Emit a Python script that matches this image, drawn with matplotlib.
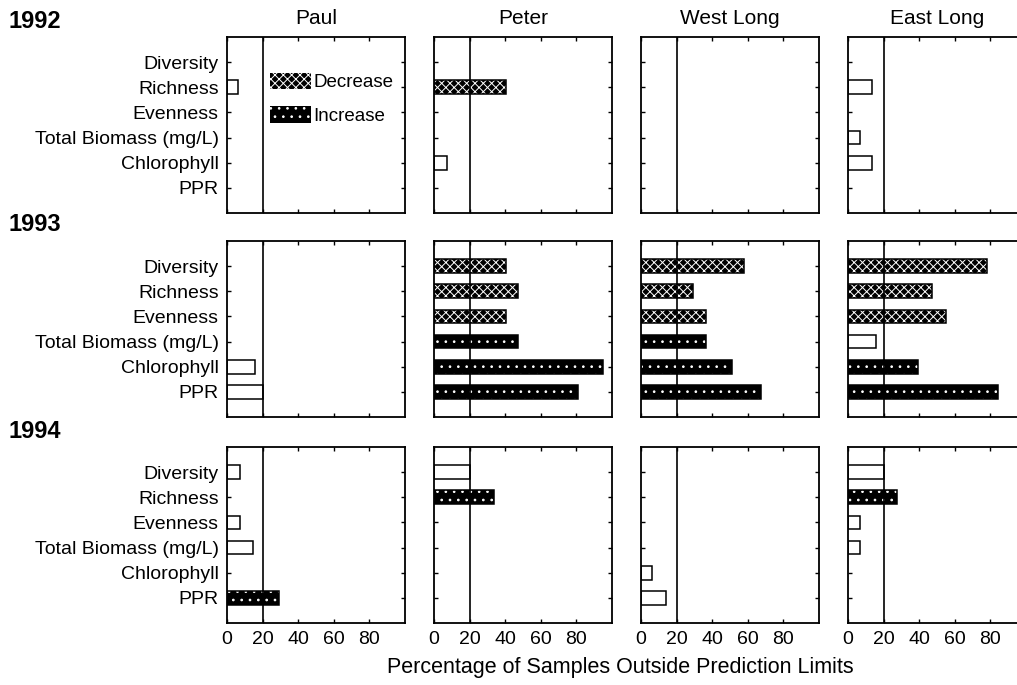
import matplotlib
matplotlib.use("Agg")
import matplotlib.pyplot as plt
from matplotlib.patches import Patch

plt.rcParams['font.family'] = ['Liberation Sans', 'DejaVu Sans']
plt.rcParams['hatch.linewidth'] = 0.7

categories = ["Diversity", "Richness", "Evenness", "Total Biomass (mg/L)", "Chlorophyll", "PPR"]
lakes = ["Paul", "Peter", "West Long", "East Long"]
years = ["1992", "1993", "1994"]

# percent of samples outside limits, one list per lake (order of categories)
pct_1992 = [[0, 6.2, 0, 0, 0, 0],
            [0, 40.7, 0, 0, 7.3, 0],
            [0, 0, 0, 0, 0, 0],
            [0, 13.4, 0, 7, 13.4, 0]]
pct_1993 = [[0, 0, 0, 0, 15.7, 20],
            [40.6, 47.4, 40.6, 47.4, 94.7, 80.8],
            [57.9, 29.2, 36.4, 36.4, 51.1, 67.2],
            [78.3, 47.2, 55.1, 15.8, 39.2, 84.3]]
pct_1994 = [[7.4, 0, 7.4, 14.8, 0, 29],
            [20, 33.7, 0, 0, 0, 0],
            [0, 0, 0, 0, 6.4, 14.2],
            [20, 27.4, 6.9, 6.9, 0, 0]]
# n = no direction (open bar), d = decrease, i = increase
kind_1992 = ["nnnnnn", "ndnnnn", "nnnnnn", "nnnnnn"]
kind_1993 = ["nnnnnn", "dddiii", "dddiii", "dddnii"]
kind_1994 = ["nnnnni", "ninnnn", "nnnnnn", "ninnnn"]

pct = [pct_1992, pct_1993, pct_1994]
kinds = [kind_1992, kind_1993, kind_1994]
hatches = {"d": "xxxx", "i": ".."}

W, H = 1017, 685
fig = plt.figure(figsize=(W / 100, H / 100), dpi=100)
col_left = [227, 434, 641, 848]
row_top = [37, 241, 447]
aw, ah = 178, 176

ypos = list(range(6, 0, -1))
for r, yr in enumerate(years):
    for c, lake in enumerate(lakes):
        ax = fig.add_axes([col_left[c] / W, 1 - (row_top[r] + ah) / H, aw / W, ah / H])
        for k in range(6):
            v = pct[r][c][k]
            kd = kinds[r][c][k]
            if v <= 0:
                continue
            if kd == "n":
                ax.barh(ypos[k], v, height=0.55, color="white", edgecolor="black", lw=1.1, zorder=2)
            else:
                ax.barh(ypos[k], v, height=0.55, color="black", edgecolor="white", lw=0,
                        hatch=hatches[kd], zorder=2)
                ax.barh(ypos[k], v, height=0.55, fill=False, edgecolor="black", lw=1.1, zorder=3)
        ax.axvline(20, color="black", lw=1.2, zorder=4)
        ax.set_xlim(0, 100)
        ax.set_ylim(0, 7)
        ax.set_xticks([0, 20, 40, 60, 80])
        ax.set_yticks(ypos)
        ax.tick_params(direction="in", top=True, right=True, length=3, width=1,
                       labelsize=14, pad=6)
        if c == 0:
            ax.set_yticklabels(categories)
        else:
            ax.set_yticklabels([])
        if r < 2:
            ax.set_xticklabels([])
        for s in ax.spines.values():
            s.set_linewidth(1.3)
        if r == 0:
            ax.set_title(lake, fontsize=15, pad=9)
        if c == 0:
            fig.text(8 / W, 1 - (row_top[r] - 16) / H, yr, fontsize=17, fontweight="bold",
                     va="center", ha="left")
        if r == 0 and c == 0:
            handles = [Patch(facecolor="black", edgecolor="white", lw=0, hatch=hatches["d"]),
                       Patch(facecolor="black", edgecolor="white", lw=0, hatch=hatches["i"])]
            ax.legend(handles, ["Decrease", "Increase"], loc="upper left",
                      bbox_to_anchor=(0.2, 0.84), frameon=False, fontsize=13.5,
                      handlelength=2.2, handleheight=1.0, handletextpad=0.1,
                      labelspacing=0.8, borderaxespad=0)

fig.text(620 / W, 1 - 668 / H, "Percentage of Samples Outside Prediction Limits",
         fontsize=15.5, ha="center", va="center")

fig.savefig("out.png", dpi=100)
